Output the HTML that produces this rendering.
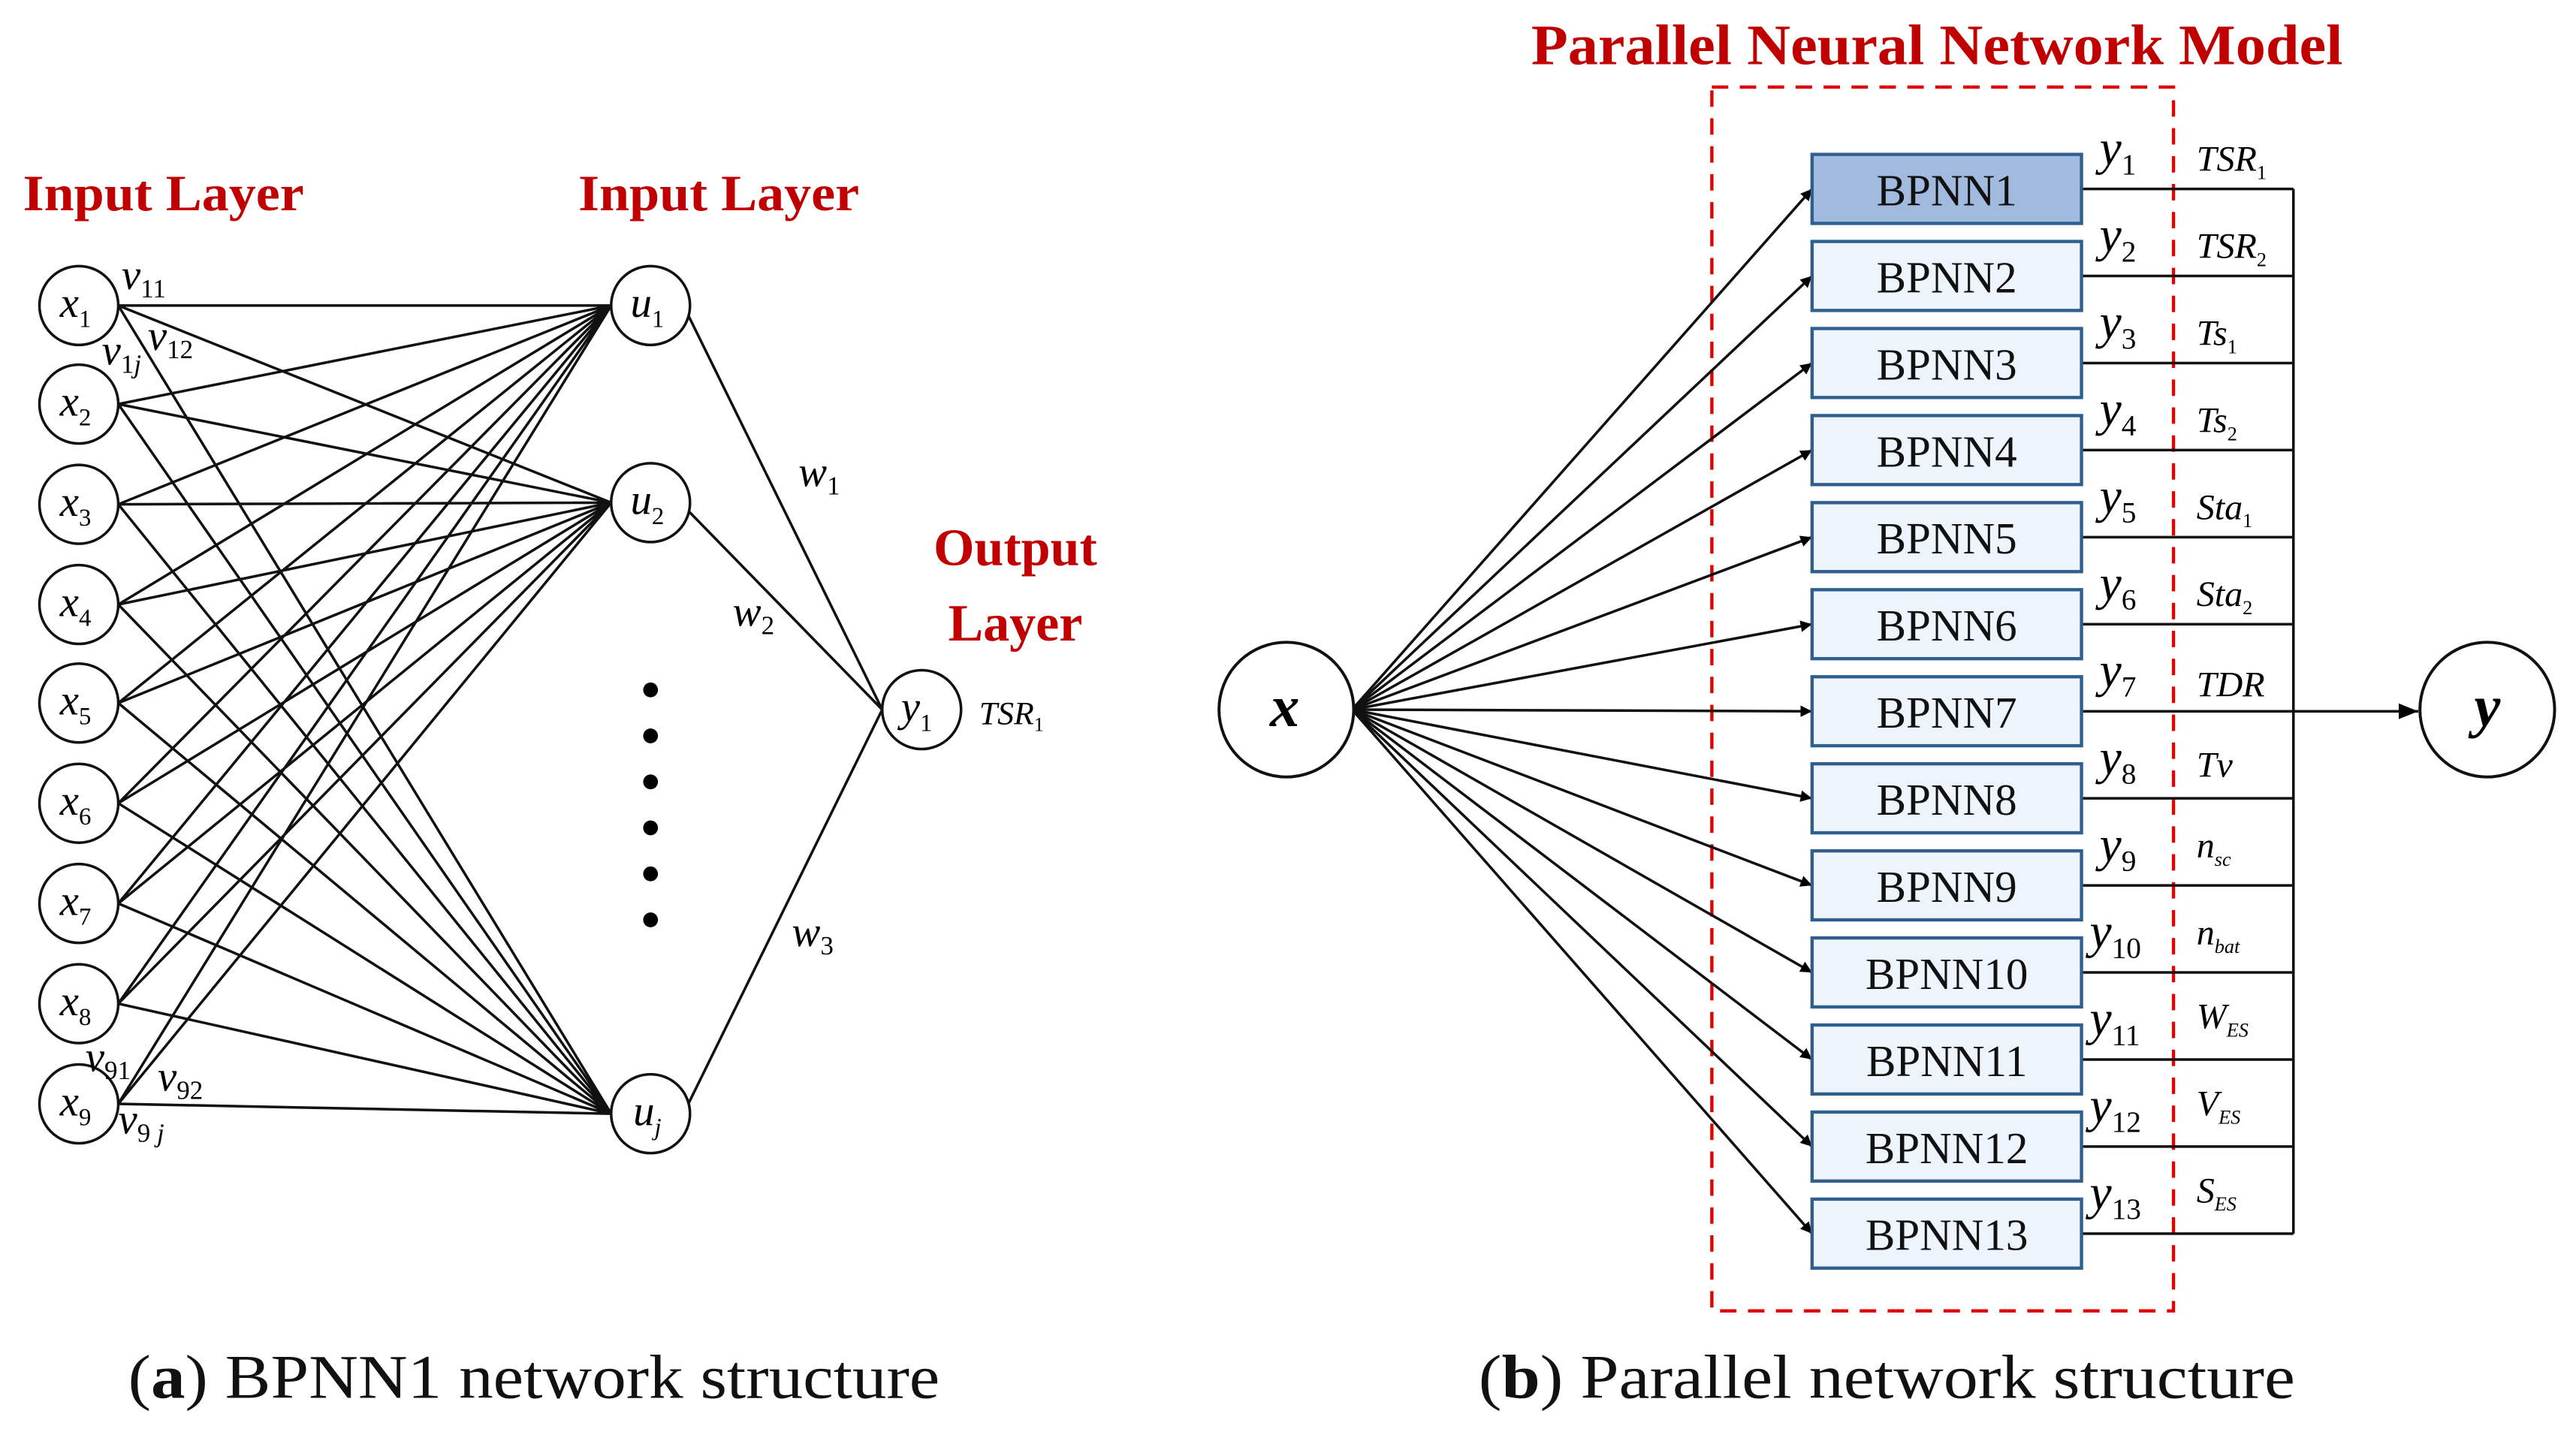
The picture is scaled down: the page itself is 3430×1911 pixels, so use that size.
<!DOCTYPE html>
<html><head><meta charset="utf-8"><style>
html,body{margin:0;padding:0;background:#fff;}
svg{display:block;}
text{font-family:"Liberation Serif",serif;}
.r{fill:#c00000;font-weight:bold;}
.i{font-style:italic;}
</style></head><body>
<svg width="3430" height="1911" viewBox="0 0 1568 873.6" xmlns="http://www.w3.org/2000/svg">
<defs><marker id="a" viewBox="0 0 10 10" refX="10" refY="5" markerWidth="7" markerHeight="7" orient="auto" markerUnits="userSpaceOnUse"><path d="M0,0 L10,5 L0,10 z" fill="#000"/></marker>
<marker id="b" viewBox="0 0 10 10" refX="10" refY="5" markerWidth="12" markerHeight="12" orient="auto" markerUnits="userSpaceOnUse"><path d="M0,1 L10,5 L0,9 z" fill="#000"/></marker></defs>
<g stroke="#111" stroke-width="1.6" fill="none">
<path d="M72 186L372 186M72 186L372 306M72 186L372 678
M72 246L372 186M72 246L372 306M72 246L372 678
M72 307L372 186M72 307L372 306M72 307L372 678
M72 368L372 186M72 368L372 306M72 368L372 678
M72 428L372 186M72 428L372 306M72 428L372 678
M72 489L372 186M72 489L372 306M72 489L372 678
M72 550L372 186M72 550L372 306M72 550L372 678
M72 611L372 186M72 611L372 306M72 611L372 678
M72 672L372 186M72 672L372 306M72 672L372 678
M418 190L537 432M418 310L537 432M418 674L537 432"/>
</g>
<g stroke="#111" stroke-width="1.6" fill="#fff">
<circle cx="48" cy="186" r="24"/><circle cx="48" cy="246" r="24"/><circle cx="48" cy="307" r="24"/><circle cx="48" cy="368" r="24"/><circle cx="48" cy="428" r="24"/><circle cx="48" cy="489" r="24"/><circle cx="48" cy="550" r="24"/><circle cx="48" cy="611" r="24"/><circle cx="48" cy="672" r="24"/>
<circle cx="396" cy="186" r="24"/><circle cx="396" cy="306" r="24"/><circle cx="396" cy="678" r="24"/>
<circle cx="561" cy="432" r="24"/>
</g>
<g fill="#000"><circle cx="396" cy="420" r="4.5"/><circle cx="396" cy="448" r="4.5"/><circle cx="396" cy="476" r="4.5"/><circle cx="396" cy="504" r="4.5"/><circle cx="396" cy="532" r="4.5"/><circle cx="396" cy="560" r="4.5"/></g>
<g font-size="26" class="i" text-anchor="middle">
<text x="46" y="193">x<tspan font-size="15" font-style="normal" dy="6">1</tspan></text>
<text x="46" y="253">x<tspan font-size="15" font-style="normal" dy="6">2</tspan></text>
<text x="46" y="314">x<tspan font-size="15" font-style="normal" dy="6">3</tspan></text>
<text x="46" y="375">x<tspan font-size="15" font-style="normal" dy="6">4</tspan></text>
<text x="46" y="435">x<tspan font-size="15" font-style="normal" dy="6">5</tspan></text>
<text x="46" y="496">x<tspan font-size="15" font-style="normal" dy="6">6</tspan></text>
<text x="46" y="557">x<tspan font-size="15" font-style="normal" dy="6">7</tspan></text>
<text x="46" y="618">x<tspan font-size="15" font-style="normal" dy="6">8</tspan></text>
<text x="46" y="679">x<tspan font-size="15" font-style="normal" dy="6">9</tspan></text>
<text x="394" y="193">u<tspan font-size="15" font-style="normal" dy="6">1</tspan></text>
<text x="394" y="313">u<tspan font-size="15" font-style="normal" dy="6">2</tspan></text>
<text x="394" y="685">u<tspan font-size="15" dy="6">j</tspan></text>
<text x="558" y="439">y<tspan font-size="15" font-style="normal" dy="6">1</tspan></text>
</g>
<g font-size="26" class="i">
<text x="74" y="176">v<tspan font-size="16" font-style="normal" dy="5">11</tspan></text>
<text x="62" y="222">v<tspan font-size="16" font-style="normal" dy="5">1</tspan><tspan font-size="16">j</tspan></text>
<text x="90" y="213">v<tspan font-size="16" font-style="normal" dy="5">12</tspan></text>
<text x="52" y="652">v<tspan font-size="16" font-style="normal" dy="5">91</tspan></text>
<text x="96" y="664">v<tspan font-size="16" font-style="normal" dy="5">92</tspan></text>
<text x="72" y="690">v<tspan font-size="16" font-style="normal" dy="5">9</tspan><tspan font-size="16"> j</tspan></text>
<text x="486" y="296">w<tspan font-size="16" font-style="normal" dy="5">1</tspan></text>
<text x="446" y="381">w<tspan font-size="16" font-style="normal" dy="5">2</tspan></text>
<text x="482" y="576">w<tspan font-size="16" font-style="normal" dy="5">3</tspan></text>
<text x="596" y="441" font-size="20">TSR<tspan font-size="12" font-style="normal" dy="4">1</tspan></text>
</g>
<g font-size="31" class="r">
<text x="14" y="128" textLength="171" lengthAdjust="spacingAndGlyphs">Input Layer</text>
<text x="352" y="128" textLength="171" lengthAdjust="spacingAndGlyphs">Input Layer</text>
<text x="618" y="344" text-anchor="middle" font-size="32">Output</text>
<text x="618" y="390" text-anchor="middle" font-size="32">Layer</text>
</g>
<text x="932" y="39" font-size="35" class="r" textLength="494" lengthAdjust="spacingAndGlyphs">Parallel Neural Network Model</text>
<rect x="1042" y="53" width="281" height="745" fill="none" stroke="#e00000" stroke-width="2" stroke-dasharray="10,7"/>
<g stroke="#111" stroke-width="1.6" fill="none" marker-end="url(#a)">
<path d="M823 432L1103 115"/><path d="M823 432L1103 168"/><path d="M823 432L1103 221"/><path d="M823 432L1103 274"/><path d="M823 432L1103 327"/><path d="M823 432L1103 380"/><path d="M823 432L1103 433"/><path d="M823 432L1103 486"/><path d="M823 432L1103 539"/><path d="M823 432L1103 592"/><path d="M823 432L1103 645"/><path d="M823 432L1103 698"/><path d="M823 432L1103 751"/>
</g>
<g stroke="#111" stroke-width="1.6" fill="none">
<path d="M1267 115H1396M1267 168H1396M1267 221H1396M1267 274H1396M1267 327H1396M1267 380H1396M1267 486H1396M1267 539H1396M1267 592H1396M1267 645H1396M1267 698H1396M1267 751H1396M1396 115V751"/>
<path d="M1267 433H1472" marker-end="url(#b)"/>
</g>
<g stroke="#2f5f8f" stroke-width="2" fill="#eef4fb">
<rect x="1103" y="94" width="164" height="42" fill="#a3badf"/>
<rect x="1103" y="147" width="164" height="42"/><rect x="1103" y="200" width="164" height="42"/><rect x="1103" y="253" width="164" height="42"/><rect x="1103" y="306" width="164" height="42"/><rect x="1103" y="359" width="164" height="42"/><rect x="1103" y="412" width="164" height="42"/><rect x="1103" y="465" width="164" height="42"/><rect x="1103" y="518" width="164" height="42"/><rect x="1103" y="571" width="164" height="42"/><rect x="1103" y="624" width="164" height="42"/><rect x="1103" y="677" width="164" height="42"/><rect x="1103" y="730" width="164" height="42"/>
</g>
<g font-size="27" text-anchor="middle" fill="#111">
<text x="1185" y="125">BPNN1</text><text x="1185" y="178">BPNN2</text><text x="1185" y="231">BPNN3</text><text x="1185" y="284">BPNN4</text><text x="1185" y="337">BPNN5</text><text x="1185" y="390">BPNN6</text><text x="1185" y="443">BPNN7</text><text x="1185" y="496">BPNN8</text><text x="1185" y="549">BPNN9</text><text x="1185" y="602">BPNN10</text><text x="1185" y="655">BPNN11</text><text x="1185" y="708">BPNN12</text><text x="1185" y="761">BPNN13</text>
</g>
<g font-size="30" class="i">
<text x="1278" y="100">y<tspan font-size="18" font-style="normal" dy="6">1</tspan></text>
<text x="1278" y="153">y<tspan font-size="18" font-style="normal" dy="6">2</tspan></text>
<text x="1278" y="206">y<tspan font-size="18" font-style="normal" dy="6">3</tspan></text>
<text x="1278" y="259">y<tspan font-size="18" font-style="normal" dy="6">4</tspan></text>
<text x="1278" y="312">y<tspan font-size="18" font-style="normal" dy="6">5</tspan></text>
<text x="1278" y="365">y<tspan font-size="18" font-style="normal" dy="6">6</tspan></text>
<text x="1278" y="418">y<tspan font-size="18" font-style="normal" dy="6">7</tspan></text>
<text x="1278" y="471">y<tspan font-size="18" font-style="normal" dy="6">8</tspan></text>
<text x="1278" y="524">y<tspan font-size="18" font-style="normal" dy="6">9</tspan></text>
<text x="1272" y="577">y<tspan font-size="18" font-style="normal" dy="6">10</tspan></text>
<text x="1272" y="630">y<tspan font-size="18" font-style="normal" dy="6">11</tspan></text>
<text x="1272" y="683">y<tspan font-size="18" font-style="normal" dy="6">12</tspan></text>
<text x="1272" y="736">y<tspan font-size="18" font-style="normal" dy="6">13</tspan></text>
</g>
<g font-size="22" class="i">
<text x="1337" y="104">TSR<tspan font-size="12" font-style="normal" dy="5">1</tspan></text>
<text x="1337" y="157">TSR<tspan font-size="12" font-style="normal" dy="5">2</tspan></text>
<text x="1337" y="210">Ts<tspan font-size="12" font-style="normal" dy="5">1</tspan></text>
<text x="1337" y="263">Ts<tspan font-size="12" font-style="normal" dy="5">2</tspan></text>
<text x="1337" y="316">Sta<tspan font-size="12" font-style="normal" dy="5">1</tspan></text>
<text x="1337" y="369">Sta<tspan font-size="12" font-style="normal" dy="5">2</tspan></text>
<text x="1337" y="424">TDR</text>
<text x="1337" y="473">Tv</text>
<text x="1337" y="522">n<tspan font-size="12" dy="5">sc</tspan></text>
<text x="1337" y="575">n<tspan font-size="12" dy="5">bat</tspan></text>
<text x="1337" y="626">W<tspan font-size="12" dy="5">ES</tspan></text>
<text x="1337" y="679">V<tspan font-size="12" dy="5">ES</tspan></text>
<text x="1337" y="732">S<tspan font-size="12" dy="5">ES</tspan></text>
</g>
<g stroke="#111" stroke-width="1.8" fill="#fff">
<circle cx="783" cy="432" r="41"/><circle cx="1514" cy="432" r="41"/>
</g>
<g font-size="36" class="i" font-weight="bold" text-anchor="middle">
<text x="782" y="442">x</text><text x="1514" y="442">y</text>
</g>
<g font-size="38" fill="#111">
<text x="78" y="851" textLength="494" lengthAdjust="spacingAndGlyphs">(<tspan font-weight="bold">a</tspan>) BPNN1 network structure</text>
<text x="900" y="851" textLength="497" lengthAdjust="spacingAndGlyphs">(<tspan font-weight="bold">b</tspan>) Parallel network structure</text>
</g>
</svg>
</body></html>
